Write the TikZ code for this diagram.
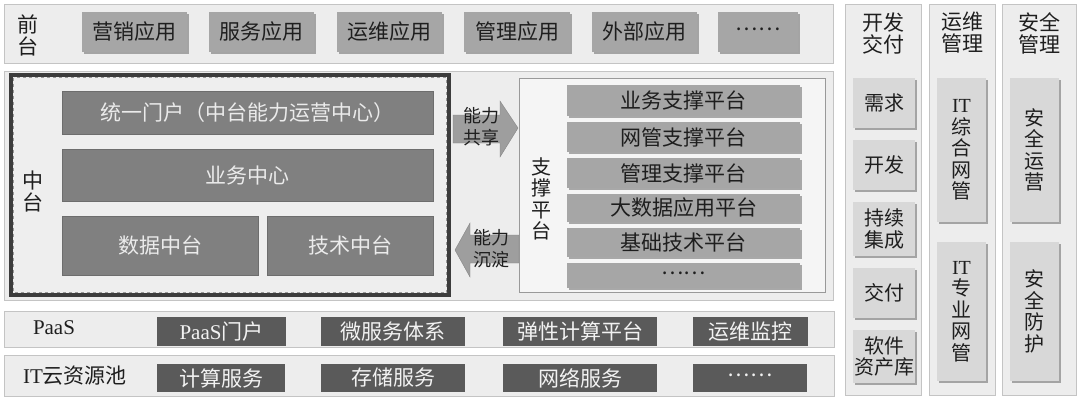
\documentclass[tikz,border=0pt]{standalone}
\usepackage{fontspec}
\setmainfont{Liberation Serif}
\newfontfamily\cjk{Noto Sans CJK SC}
\usetikzlibrary{shadows}
\definecolor{bandfill}{HTML}{EDEDED}
\definecolor{bandline}{HTML}{C4C4C4}
\definecolor{boxA}{HTML}{A6A6A6}
\definecolor{boxM}{HTML}{808080}
\definecolor{boxD}{HTML}{5A5A5A}
\definecolor{boxL}{HTML}{D8D8D8}
\definecolor{txt}{HTML}{1E1E1E}
\definecolor{darkline}{HTML}{3C3C3C}
\newcommand\mybox[7][]{%
  \pgfmathsetmacro\bxw{#5-#3}\pgfmathsetmacro\bxh{#6-#4}%
  \pgfmathsetmacro\bxcx{(#3+#5)/2}\pgfmathsetmacro\bxcy{(#4+#6)/2}%
  \node[#1, minimum width=\bxw pt, minimum height=\bxh pt] (#2) at (\bxcx,\bxcy) {#7};}
\tikzset{
  every node/.style={font=\cjk\fontsize{21}{22}\selectfont, text=txt},
  band/.style={draw=bandline, fill=bandfill, line width=0.8pt, inner sep=0pt},
  shd/.style={drop shadow={shadow xshift=1.6pt, shadow yshift=-1.6pt, opacity=0.45, fill=black!70}},
  fbox/.style={fill=boxA, inner sep=0pt, shd},
  sbox/.style={fill=boxA, inner sep=0pt, shd},
  mbox/.style={fill=boxM, draw=boxM!85!black, line width=0.5pt, inner sep=0pt, text=white!92!black},
  pbox/.style={fill=boxD, inner sep=0pt, text=white!95!black},
  rbox/.style={fill=boxL, inner sep=0pt, align=center, shd, font=\cjk\fontsize{20}{21.5}\selectfont},
  lab/.style={align=center, inner sep=0pt},
  arrowtxt/.style={align=center, inner sep=0pt, font=\cjk\fontsize{18}{22}\selectfont},
  bigarrow/.style={fill=boxA!95!black, draw=boxA!80!black, line width=0.4pt}
}
\begin{document}
\begin{tikzpicture}[x=1pt,y=-1pt]
\useasboundingbox (0,0) rectangle (1080,400);
\fill[white] (0,0) rectangle (1080,400);

% ---------- front band ----------
\mybox[band]{front}{4}{4}{833}{63}{}
\node[lab] (frontlab) at (28,35) {前\\台};
\mybox[fbox]{f1}{82}{12}{187}{52}{营销应用}
\mybox[fbox]{f2}{209}{12}{314}{52}{服务应用}
\mybox[fbox]{f3}{337}{12}{442}{52}{运维应用}
\mybox[fbox]{f4}{464}{12}{570}{52}{管理应用}
\mybox[fbox]{f5}{592}{12}{697}{52}{外部应用}
\mybox[fbox]{f6}{718}{12}{798}{52}{\raisebox{5pt}{……}}

% ---------- middle band ----------
\mybox[band]{mid}{4}{71}{833}{300}{}
\draw[darkline, line width=3.5pt, fill=bandfill!95!white] (11,75) rectangle (449,295);
\draw[black!40, line width=1.1pt, dash pattern=on 3pt off 3pt] (13.5,77.5) rectangle (446.5,292.5);
\node[lab] (midlab) at (33,192) {中\\台};
\mybox[mbox]{portal}{62}{91}{433}{134}{统一门户（中台能力运营中心）}
\mybox[mbox]{biz}{62}{149}{433}{201}{业务中心}
\mybox[mbox]{data}{62}{216}{258}{275}{数据中台}
\mybox[mbox]{tech}{267}{216}{433}{275}{技术中台}

\mybox[inner sep=0pt, draw=black!40, fill=white!96!black, line width=0.7pt]{support}{519}{78}{825}{292}{}
\node[lab, font=\cjk\fontsize{20}{21.5}\selectfont] (supportlab) at (541,199) {支\\撑\\平\\台};
\mybox[sbox]{s1}{567}{85}{800}{116}{业务支撑平台}
\mybox[sbox]{s2}{567}{122}{800}{152}{网管支撑平台}
\mybox[sbox]{s3}{567}{158}{800}{188}{管理支撑平台}
\mybox[sbox]{s4}{567}{194}{800}{222}{大数据应用平台}
\mybox[sbox]{s5}{567}{228}{800}{257}{基础技术平台}
\mybox[sbox]{s6}{567}{263}{800}{288}{\raisebox{5pt}{……}}

% arrows
\draw[bigarrow] (453,115) -- (500,115) -- (500,101) -- (518,128) -- (500,157) -- (500,143) -- (453,143) -- cycle;
\node[arrowtxt] (share) at (481,127) {能力\\共享};
\draw[bigarrow] (519,235) -- (470,235) -- (470,223) -- (455,250) -- (470,277) -- (470,263) -- (519,263) -- cycle;
\node[arrowtxt] (settle) at (491,249) {能力\\沉淀};

% ---------- PaaS band ----------
\mybox[band]{paas}{4}{311}{834}{347}{}
\node[lab] (paaslab) at (54,328) {\rmfamily PaaS};
\mybox[pbox]{p1}{157}{317}{286}{346}{{\rmfamily PaaS}门户}
\mybox[pbox]{p2}{321}{317}{465}{346}{微服务体系}
\mybox[pbox]{p3}{503}{317}{657}{346}{弹性计算平台}
\mybox[pbox]{p4}{693}{317}{808}{346}{运维监控}

% ---------- IT band ----------
\mybox[band]{iaas}{4}{355}{834}{396}{}
\node[lab] (iaaslab) at (75,376) {{\rmfamily IT}云资源池};
\mybox[pbox]{i1}{157}{364}{285}{392}{计算服务}
\mybox[pbox]{i2}{321}{364}{465}{392}{存储服务}
\mybox[pbox]{i3}{503}{364}{657}{392}{网络服务}
\mybox[pbox]{i4}{693}{364}{807}{392}{\raisebox{5pt}{……}}

% ---------- right columns ----------
\mybox[band]{dev}{845}{4}{921}{395}{}
\node[lab] (devlab) at (883,33) {开发\\交付};
\mybox[rbox]{d1}{853}{78}{915}{128}{需求}
\mybox[rbox]{d2}{853}{140}{915}{190}{开发}
\mybox[rbox]{d3}{853}{202}{915}{256}{持续\\集成}
\mybox[rbox]{d4}{853}{268}{915}{318}{交付}
\mybox[rbox]{d5}{853}{330}{915}{383}{软件\\资产库}

\mybox[band]{ops}{929}{4}{995}{395}{}
\node[lab] (opslab) at (962,33) {运维\\管理};
\mybox[rbox]{o1}{937}{78}{986}{222}{{\rmfamily IT}\\综\\合\\网\\管}
\mybox[rbox]{o2}{937}{242}{986}{381}{{\rmfamily IT}\\专\\业\\网\\管}

\mybox[band]{sec}{1002}{4}{1076}{395}{}
\node[lab] (seclab) at (1039,33) {安全\\管理};
\mybox[rbox]{c1}{1010}{78}{1059}{222}{安\\全\\运\\营}
\mybox[rbox]{c2}{1010}{242}{1059}{381}{安\\全\\防\\护}
\end{tikzpicture}
\end{document}
